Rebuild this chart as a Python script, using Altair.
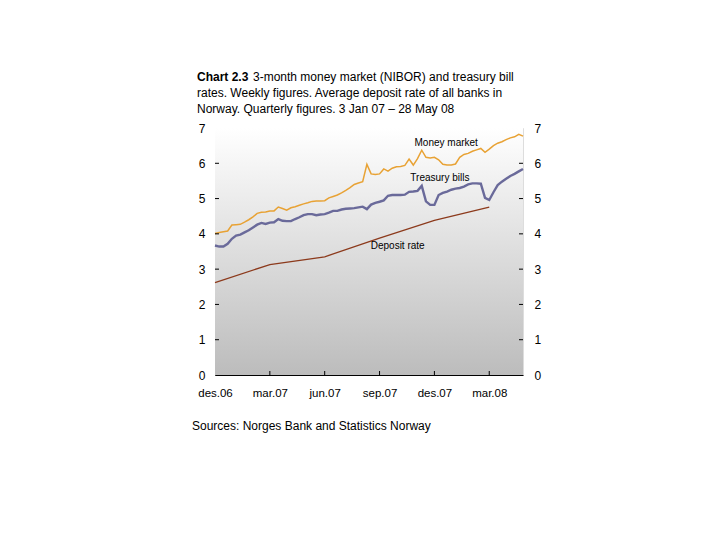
import altair as alt
import pandas as pd

# ---- data ----
week_index = list(range(74))  # weekly observations, 3 Jan 07 - 28 May 08

money_market = [4.01, 4.04, 4.06, 4.08, 4.25, 4.26, 4.27, 4.33, 4.40, 4.48,
                4.58, 4.61, 4.62, 4.65, 4.65, 4.76, 4.72, 4.67, 4.74, 4.77,
                4.81, 4.85, 4.88, 4.92, 4.93, 4.93, 4.94, 5.02, 5.06, 5.10,
                5.16, 5.23, 5.31, 5.40, 5.44, 5.48, 5.97, 5.70, 5.68, 5.70,
                5.84, 5.78, 5.86, 5.90, 5.91, 5.94, 6.12, 5.95, 6.13, 6.37,
                6.17, 6.15, 6.17, 6.10, 5.97, 5.95, 5.95, 5.98, 6.17, 6.25,
                6.28, 6.34, 6.38, 6.42, 6.31, 6.40, 6.50, 6.57, 6.61, 6.67,
                6.72, 6.75, 6.82, 6.77]

treasury_bills = [3.67, 3.64, 3.64, 3.72, 3.86, 3.95, 3.98, 4.04, 4.10, 4.18,
                  4.26, 4.31, 4.28, 4.32, 4.33, 4.42, 4.37, 4.36, 4.36, 4.42,
                  4.47, 4.53, 4.56, 4.56, 4.53, 4.55, 4.56, 4.60, 4.65, 4.65,
                  4.69, 4.71, 4.72, 4.73, 4.75, 4.77, 4.70, 4.83, 4.88, 4.91,
                  4.95, 5.08, 5.10, 5.10, 5.10, 5.11, 5.19, 5.20, 5.22, 5.36,
                  4.92, 4.82, 4.82, 5.10, 5.16, 5.20, 5.25, 5.28, 5.30, 5.34,
                  5.40, 5.43, 5.43, 5.42, 5.02, 4.96, 5.18, 5.38, 5.48, 5.56,
                  5.64, 5.70, 5.77, 5.84]

deposit_weeks = [0, 13, 26, 39, 52, 65]
deposit_rate = [2.62, 3.13, 3.35, 3.88, 4.38, 4.76]

tick_weeks = [0, 13, 26, 39, 52, 65]
tick_labels = ["des.06", "mar.07", "jun.07", "sep.07", "des.07", "mar.08"]
y_ticks = [0, 1, 2, 3, 4, 5, 6, 7]

series_names = ["Money market", "Treasury bills", "Deposit rate"]
series_colors = ["#E8A234", "#6A6A9A", "#8C3A1C"]
label_weeks = [54.8, 53.3, 43.3]
label_values = [6.57, 5.59, 3.66]

title_bold = "Chart 2.3"
title_lines = ["3-month money market (NIBOR) and treasury bill",
               "rates. Weekly figures. Average deposit rate of all banks in",
               "Norway. Quarterly figures. 3 Jan 07 \u2013 28 May 08"]
source_text = "Sources: Norges Bank and Statistics Norway"

# ---- frames ----
W, H = 308, 247
FONT = "Liberation Sans"

weekly = pd.DataFrame({"week": week_index + week_index,
                       "value": money_market + treasury_bills,
                       "series": ["Money market"] * 74 + ["Treasury bills"] * 74})
deposit = pd.DataFrame({"week": deposit_weeks, "value": deposit_rate})
labels_df = pd.DataFrame({"week": label_weeks, "value": label_values, "text": series_names})
bg_df = pd.DataFrame({"x0": [0], "x1": [73], "y0": [0], "y1": [7]})
ytick_df = pd.DataFrame({"v": y_ticks[1:7]})
xtick_df = pd.DataFrame({"w": tick_weeks[1:]})

xscale = alt.Scale(domain=[0, 73], nice=False, zero=False)
yscale = alt.Scale(domain=[0, 7], nice=False)

label_expr = ""
for w, t in zip(tick_weeks, tick_labels):
    label_expr += "datum.value == %d ? '%s' : " % (w, t)
label_expr += "''"

x_axis = alt.Axis(values=tick_weeks, labelExpr=label_expr, ticks=False, grid=False,
                  domainColor="black", labelFont=FONT, labelFontSize=11.5,
                  labelColor="black", labelPadding=12, labelFlush=False,
                  labelOverlap=False, title=None)

bg = alt.Chart(bg_df).mark_rect(
    color=alt.Gradient(gradient="linear",
                       stops=[alt.GradientStop(color="#FFFFFF", offset=0),
                              alt.GradientStop(color="#BCBCBC", offset=1)],
                       x1=0, x2=0, y1=0, y2=1)
).encode(
    x=alt.X("x0:Q", scale=xscale, axis=x_axis),
    x2="x1:Q",
    y=alt.Y("y0:Q", scale=yscale,
            axis=alt.Axis(orient="left", values=y_ticks, ticks=False, grid=False,
                          domainColor="black", labelFont=FONT, labelFontSize=12,
                          labelColor="black", labelPadding=10, title=None)),
    y2="y1:Q",
)

right_axis = alt.Chart(bg_df).mark_rect(opacity=0).encode(
    x=alt.X("x0:Q", scale=xscale, axis=None),
    x2="x1:Q",
    y=alt.Y("y0:Q", scale=yscale,
            axis=alt.Axis(orient="right", values=y_ticks, ticks=False, grid=False,
                          domain=False, labelFont=FONT, labelFontSize=12,
                          labelColor="black", labelPadding=11, title=None)),
    y2="y1:Q",
)

lines = alt.Chart(weekly).mark_line(interpolate="linear").encode(
    x=alt.X("week:Q", scale=xscale, axis=None),
    y=alt.Y("value:Q", scale=yscale, axis=None),
    color=alt.Color("series:N", legend=None,
                    scale=alt.Scale(domain=series_names[:2], range=series_colors[:2])),
    strokeWidth=alt.StrokeWidth("series:N", legend=None,
                                scale=alt.Scale(domain=series_names[:2], range=[1.5, 2.4])),
)

dep = alt.Chart(deposit).mark_line(color=series_colors[2], strokeWidth=1.3).encode(
    x=alt.X("week:Q", scale=xscale, axis=None),
    y=alt.Y("value:Q", scale=yscale, axis=None),
)

ann = alt.Chart(labels_df).mark_text(font=FONT, fontSize=10, color="black").encode(
    x=alt.X("week:Q", scale=xscale, axis=None),
    y=alt.Y("value:Q", scale=yscale, axis=None),
    text="text:N",
)

left_ticks = alt.Chart(ytick_df).mark_rule(color="black").encode(
    x=alt.value(0), x2=alt.value(4), y=alt.Y("v:Q", scale=yscale, axis=None))
right_ticks = alt.Chart(ytick_df).mark_rule(color="black").encode(
    x=alt.value(W - 4), x2=alt.value(W), y=alt.Y("v:Q", scale=yscale, axis=None))
bottom_ticks = alt.Chart(xtick_df).mark_rule(color="black").encode(
    y=alt.value(H - 4), y2=alt.value(H), x=alt.X("w:Q", scale=xscale, axis=None))

one = pd.DataFrame({"k": [0]})
t_bold = alt.Chart(one).mark_text(font=FONT, fontSize=12, fontWeight="bold", align="left",
                                  baseline="middle", color="black").encode(
    x=alt.value(-18), y=alt.value(-51), text=alt.value(title_bold))
t1 = alt.Chart(one).mark_text(font=FONT, fontSize=12, align="left", baseline="middle",
                              color="black").encode(
    x=alt.value(38), y=alt.value(-51), text=alt.value(title_lines[0]))
t2 = alt.Chart(one).mark_text(font=FONT, fontSize=12, align="left", baseline="middle",
                              color="black").encode(
    x=alt.value(-18), y=alt.value(-35), text=alt.value(title_lines[1]))
t3 = alt.Chart(one).mark_text(font=FONT, fontSize=12, align="left", baseline="middle",
                              color="black").encode(
    x=alt.value(-18), y=alt.value(-19), text=alt.value(title_lines[2]))
src = alt.Chart(one).mark_text(font=FONT, fontSize=12, align="left", baseline="middle",
                               color="black").encode(
    x=alt.value(-23), y=alt.value(298), text=alt.value(source_text))

chart = alt.layer(
    bg, right_axis, dep, lines, ann, left_ticks, right_ticks, bottom_ticks,
    t_bold, t1, t2, t3, src
).resolve_axis(x="independent", y="independent").properties(
    width=W, height=H,
    autosize=alt.AutoSizeParams(type="none"),
    padding={"left": 207, "top": 120, "right": 100, "bottom": 100},
).configure_view(strokeWidth=0).configure(background="white")

chart.save("out.html", embed_options={"renderer": "svg", "actions": False})
